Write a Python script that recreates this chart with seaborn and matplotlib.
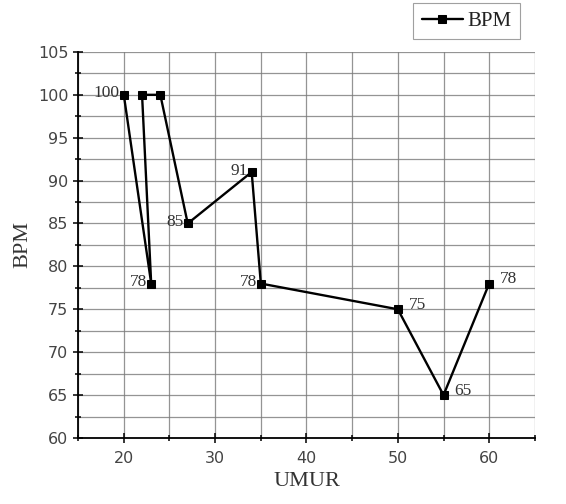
import numpy as np
import pandas as pd
import seaborn as sns
import matplotlib.pyplot as plt
from matplotlib.ticker import MultipleLocator

# data in drawing order (line goes back and forth)
umur = [20, 23, 22, 24, 27, 34, 35, 50, 55, 60]
bpm = [100, 78, 100, 100, 85, 91, 78, 75, 65, 78]

# which points get a label and on which side
label_idx = [0, 1, 4, 5, 6, 7, 8, 9]
label_side = ['left', 'left', 'left', 'left', 'left', 'right', 'right', 'right']

df = pd.DataFrame({'UMUR': umur, 'BPM': bpm})

sns.set_style('white')
fig = plt.figure(figsize=(5.66, 5.04), dpi=100)
ax = fig.add_axes([0.138, 0.131, 0.807, 0.766])

sns.lineplot(data=df, x='UMUR', y='BPM', sort=False, estimator=None, ax=ax,
             color='black', lw=1.7, marker='s', markersize=6,
             markeredgecolor='black', label='BPM')

ax.set_xlim(15, 65)
ax.set_ylim(60, 105)
ax.xaxis.set_major_locator(MultipleLocator(10))
ax.xaxis.set_minor_locator(MultipleLocator(5))
ax.yaxis.set_major_locator(MultipleLocator(5))
ax.yaxis.set_minor_locator(MultipleLocator(2.5))
ax.grid(True, which='both', color='#7a7a7a', lw=0.9, alpha=0.8)
ax.set_axisbelow(True)

for s in ['top', 'right']:
    ax.spines[s].set_visible(False)
for s in ['left', 'bottom']:
    ax.spines[s].set_color('black')
    ax.spines[s].set_linewidth(1.3)

ax.tick_params(which='both', direction='inout', color='black', width=1.1,
               labelsize=11.5, labelcolor='#444444', left=True, bottom=True)
ax.tick_params(which='major', length=7)
ax.tick_params(which='minor', length=5)
ax.tick_params(axis='x', pad=6)

ax.set_xlabel('UMUR', fontsize=16, family='Liberation Serif', color='#333333')
ax.set_ylabel('BPM', fontsize=16, family='Liberation Serif', color='#333333')

for i, side in zip(label_idx, label_side):
    if side == 'left':
        ax.annotate(str(bpm[i]), (umur[i], bpm[i]), xytext=(-3, 1),
                    textcoords='offset points', ha='right', va='center',
                    fontsize=12.5, family='Liberation Serif', color='#333333')
    else:
        ax.annotate(str(bpm[i]), (umur[i], bpm[i]), xytext=(8, 3),
                    textcoords='offset points', ha='left', va='center',
                    fontsize=12.5, family='Liberation Serif', color='#333333')

leg = ax.legend(loc='upper right', bbox_to_anchor=(0.967, 1.127), frameon=True,
                fancybox=False, edgecolor='#888888',
                prop={'family': 'Liberation Serif', 'size': 15},
                handlelength=2.0, handletextpad=0.2, borderpad=0.4,
                borderaxespad=0)
leg.get_frame().set_linewidth(0.8)
for t in leg.get_texts():
    t.set_color('#222222')

fig.savefig('out.png', dpi=100)
